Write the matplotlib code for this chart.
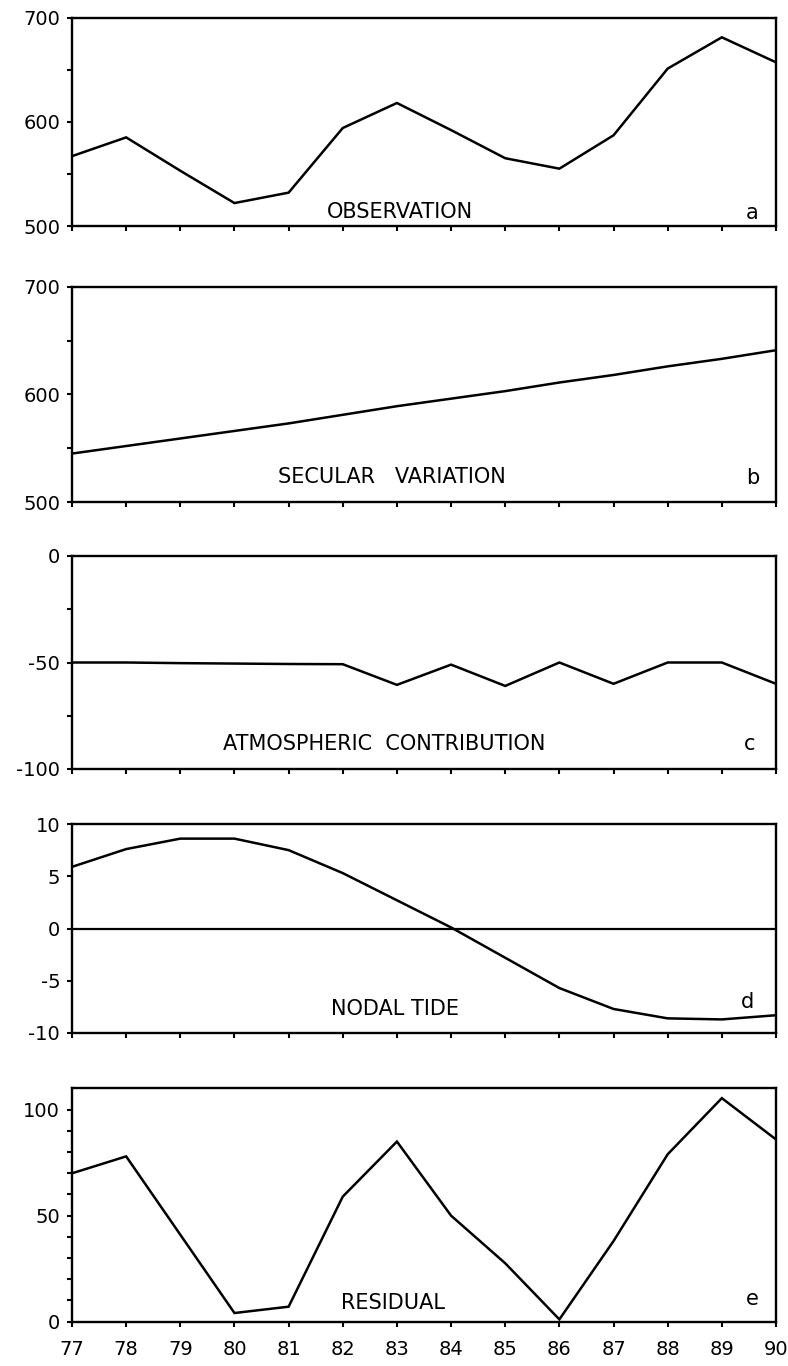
import matplotlib
matplotlib.use("Agg")
import matplotlib.pyplot as plt
from matplotlib.ticker import FixedLocator

# ---- data ----
years = [77, 78, 79, 80, 81, 82, 83, 84, 85, 86, 87, 88, 89, 90]
year_labels = ["77", "78", "79", "80", "81", "82", "83", "84", "85", "86", "87", "88", "89", "90"]

observation = [567, 585, 553, 522, 532, 594, 618, 592, 565, 555, 587, 651, 681, 657]
secular = [545, 552, 559, 566, 573, 581, 589, 596, 603, 611, 618, 626, 633, 641]
atmospheric = [-50, -50, -50.3, -50.5, -50.7, -50.8, -60.5, -51, -61, -50, -60, -50, -50, -60]
nodal = [5.9, 7.6, 8.6, 8.6, 7.5, 5.3, 2.7, 0.1, -2.8, -5.7, -7.7, -8.6, -8.7, -8.3]
residual = [70, 78, 41, 4, 7, 59, 85, 50, 27.5, 1, 38, 79, 105.5, 86]

panel_names = ["OBSERVATION", "SECULAR   VARIATION", "ATMOSPHERIC  CONTRIBUTION",
               "NODAL TIDE", "RESIDUAL"]
panel_letters = ["a", "b", "c", "d", "e"]

W, H = 788, 1366
fig = plt.figure(figsize=(W / 100, H / 100), dpi=100)
plt.rcParams['font.family'] = ['DejaVu Sans']

# axes boxes in pixels: (top, bottom)
boxes = [(17.5, 226), (286.7, 502), (556, 769), (824, 1033), (1088, 1321.5)]
left_px, right_px = 72, 776

series = [observation, secular, atmospheric, nodal, residual]
ylims = [(500, 700), (500, 700), (-100, 0), (-10, 10), (0, 110.3)]
major = [[500, 600, 700], [500, 600, 700], [-100, -50, 0], [-10, -5, 0, 5, 10], [0, 50, 100]]
minor = [[550, 650], [550, 650], [-75, -25], [], [10, 20, 30, 40, 60, 70, 80, 90]]
text_pos = [(0.362, 0.069), (0.293, 0.117), (0.214, 0.117), (0.368, 0.115), (0.382, 0.080)]
letter_pos = [(0.966, 0.062), (0.967, 0.111), (0.963, 0.117), (0.960, 0.150), (0.967, 0.096)]

for i, (top, bot) in enumerate(boxes):
    ax = fig.add_axes([left_px / W, 1 - bot / H, (right_px - left_px) / W, (bot - top) / H])
    ax.plot(years, series[i], color="black", lw=1.8, solid_joinstyle="miter")
    if i == 3:
        ax.axhline(0, color="black", lw=1.6)
    ax.set_xlim(years[0], years[-1])
    ax.set_ylim(*ylims[i])
    ax.yaxis.set_major_locator(FixedLocator(major[i]))
    ax.yaxis.set_minor_locator(FixedLocator(minor[i]))
    ax.set_yticklabels([str(v) for v in major[i]])
    ax.set_xticks(years)
    if i == 4:
        ax.set_xticklabels(year_labels)
    else:
        ax.set_xticklabels([])
    for s in ax.spines.values():
        s.set_linewidth(1.7)
        s.set_color("black")
    ax.tick_params(axis="both", which="both", direction="out", length=3.5, width=1.5,
                   colors="black", labelsize=14)
    ax.tick_params(axis="y", which="major", pad=5)
    ax.tick_params(axis="x", which="major", pad=10)
    ax.text(text_pos[i][0], text_pos[i][1], panel_names[i], transform=ax.transAxes,
            ha="left", va="center", fontsize=15)
    ax.text(letter_pos[i][0], letter_pos[i][1], panel_letters[i], transform=ax.transAxes,
            ha="center", va="center", fontsize=15)

fig.savefig("out.png", dpi=100)
